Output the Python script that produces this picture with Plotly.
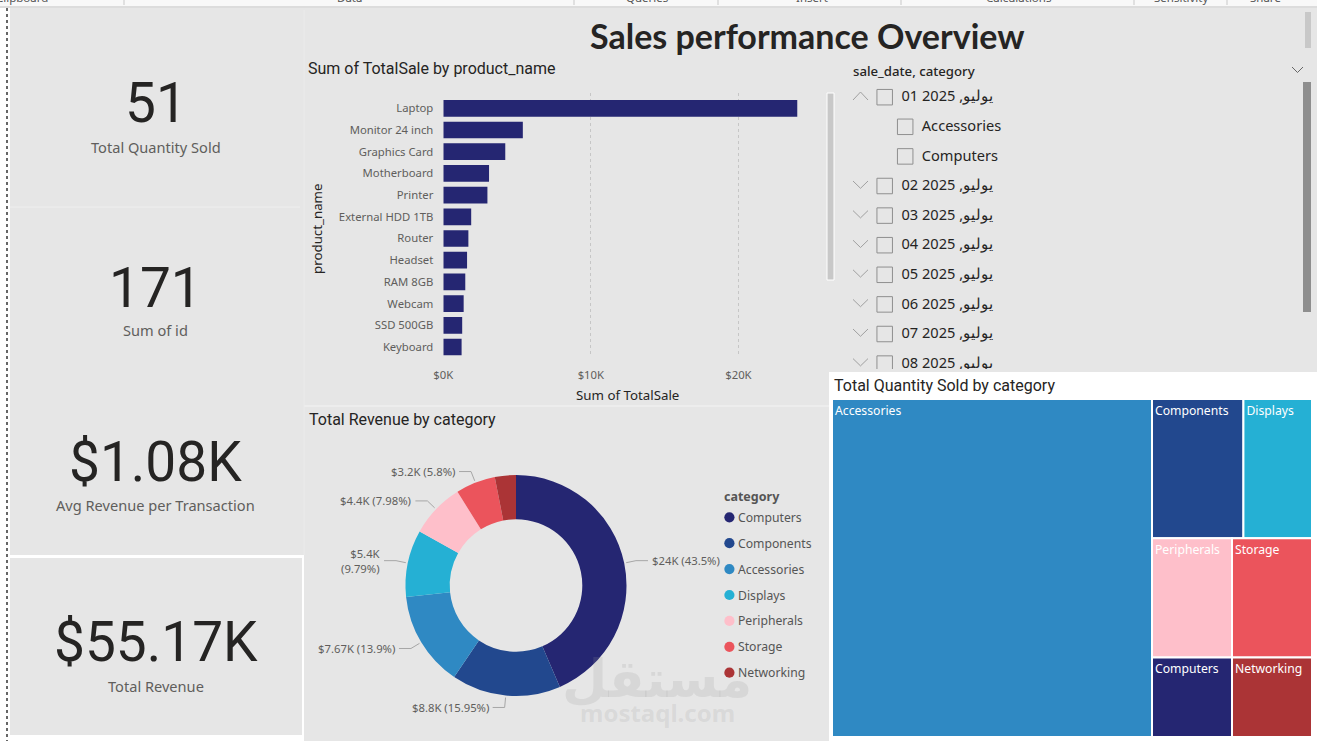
import math
import plotly.graph_objects as go

W, H = 1317, 741

# ---------------- data ----------------
products = ["Laptop", "Monitor 24 inch", "Graphics Card", "Motherboard", "Printer",
            "External HDD 1TB", "Router", "Headset", "RAM 8GB", "Webcam", "SSD 500GB", "Keyboard"]
product_sales = [23990, 5390, 4200, 3100, 2990, 1890, 1700, 1610, 1490, 1380, 1280, 1240]
sales_ticks = [0, 10000, 20000]
sales_tick_labels = ["$0K", "$10K", "$20K"]

rev_categories = ["Computers", "Components", "Accessories", "Displays", "Peripherals", "Storage", "Networking"]
rev_values = [24000, 8800, 7670, 5400, 4400, 3200, 1700]
rev_value_labels = ["$24K", "$8.8K", "$7.67K", "$5.4K", "$4.4K", "$3.2K", "$1.7K"]
rev_pct_labels = ["43.5%", "15.95%", "13.9%", "9.79%", "7.98%", "5.8%", "3.08%"]

qty_categories = ["Accessories", "Components", "Displays", "Peripherals", "Storage", "Computers", "Networking"]
qty_values = [34, 4, 3, 3, 3, 2, 2]

card_values = ["51", "171", "$1.08K", "$55.17K"]
card_labels = ["Total Quantity Sold", "Sum of id", "Avg Revenue per Transaction", "Total Revenue"]

slicer_days = ["01", "02", "03", "04", "05", "06", "07", "08"]
slicer_month = "يوليو"
slicer_year = "2025"
slicer_expanded_children = ["Accessories", "Computers"]

ribbon_items = ["Clipboard", "Data", "Queries", "Insert", "Calculations", "Sensitivity", "Share"]

cat_colors = {"Computers": "#252672", "Components": "#22488E", "Accessories": "#2F89C3",
              "Displays": "#25B0D4", "Peripherals": "#FEBFCA", "Storage": "#EB545C",
              "Networking": "#AB3436"}

# ---------------- helpers ----------------
FONT = "Noto Sans"
DIN = "Roboto"
TXT = "#252423"
SUB = "#605E5C"


def px(x):
    return x / W


def py(y):
    return 1 - y / H


shapes = []
annotations = []


def rect(x0, y0, x1, y1, color, line=None, layer="below"):
    shapes.append(dict(type="rect", xref="paper", yref="paper",
                       x0=px(x0), x1=px(x1), y0=py(y1), y1=py(y0),
                       fillcolor=color, line=line or dict(width=0), layer=layer))


def seg(x0, y0, x1, y1, color, width=1, dash="solid", layer="above"):
    shapes.append(dict(type="line", xref="paper", yref="paper",
                       x0=px(x0), y0=py(y0), x1=px(x1), y1=py(y1),
                       line=dict(color=color, width=width, dash=dash), layer=layer))


def text(x, y, s, size, color, family=FONT, xanchor="left", yanchor="middle",
         weight="normal", angle=0, align="left"):
    annotations.append(dict(xref="paper", yref="paper", x=px(x), y=py(y), text=s,
                            showarrow=False, xanchor=xanchor, yanchor=yanchor,
                            align=align, textangle=angle, borderpad=0,
                            font=dict(size=size, color=color, family=family, weight=weight)))


# ---------------- backgrounds ----------------
rect(0, 0, W, 6, "#F8F8F8")
rect(0, 6, W, 8, "#DCDCDC")
for sx in [124, 574, 718, 901, 1134, 1227]:
    seg(sx, 0, sx, 5, "#C8C8C8", layer="below")
ribbon_x = [22, 349, 647, 812, 1018, 1181, 1265]
for name, rx in zip(ribbon_items, ribbon_x):
    text(rx, -3, name, 11.5, "#555555", xanchor="center")

rect(10, 8, W, H, "#E6E6E6")
# cards column
rect(0, 735, 304, H, "#FFFFFF")
seg(10, 207, 300, 207, "#EFEFEF", 1, layer="below")
rect(10, 555, 304, 558, "#FFFFFF")
rect(302, 555, 304, 735, "#FFFFFF")
seg(7, 8, 7, H, "#666666", 2, "dot", layer="below")
# faint panel borders
seg(304, 406, 829, 406, "#EFEFEF", 1.5, layer="below")
seg(304, 10, 304, 555, "#EBEBEB", 1, layer="below")
# treemap panel (white)
rect(829, 372, W, H, "#FFFFFF")
# title scrollbar
rect(1305, 12, 1311, 48, "#C8C8C8")
# bar chart scrollbar
rect(827, 93, 834, 280, "#C8C8C8", line=dict(color="#FFFFFF", width=1))
# slicer scrollbar
rect(1303, 82, 1311, 312, "#8E8E8E")
# slicer header chevron
seg(1292, 67, 1297.5, 72.5, "#666666", 1)
seg(1297.5, 72.5, 1303, 67, "#666666", 1)

# ---------------- cards ----------------
val_y = [103, 288, 462, 642]
lab_y = [147, 330, 505, 686]
for v, l, vy, ly in zip(card_values, card_labels, val_y, lab_y):
    text(155.5, vy, v, 55, TXT, family=DIN, xanchor="center")
    text(155.5, ly, l, 14.6, SUB, xanchor="center")

# ---------------- titles ----------------
text(806.5, 35, "Sales performance Overview", 34, TXT, family="Lato", xanchor="center", weight="bold")
text(307, 68.5, "Sum of TotalSale by product_name", 16, TXT, family=DIN)
text(308, 419, "Total Revenue by category", 16, TXT, family=DIN)
text(833, 385, "Total Quantity Sold by category", 16, TXT, family=DIN)
text(852, 71, "sale_date, category", 13.2, TXT, weight=500)

# axis titles for the bar chart
text(317, 229, "product_name", 13.3, TXT, xanchor="center", angle=-90)
text(627.5, 395, "Sum of TotalSale", 13.3, TXT, xanchor="center")

fig = go.Figure()

# ---------------- bar chart ----------------
fig.add_trace(go.Bar(x=product_sales, y=products, orientation="h", width=0.77,
                     marker=dict(color="#252672", line=dict(width=0)),
                     hoverinfo="skip", xaxis="x", yaxis="y"))

x0px, per_k = 443.3, 14.755
bar_xaxis = dict(domain=[px(x0px), px(x0px + per_k * 25)], range=[0, 25000],
                 tickvals=sales_ticks, ticktext=sales_tick_labels,
                 showgrid=True, gridcolor="#C6C6C6", griddash="dot", gridwidth=1,
                 zeroline=False, showline=False, ticks="", ticklabelstandoff=10,
                 tickfont=dict(family=FONT, size=11.3, color=SUB), anchor="y",
                 fixedrange=True, automargin=False)
bar_yaxis = dict(domain=[py(357), py(93)], range=[11.46, -0.705], type="category",
                 categoryorder="array", categoryarray=products,
                 showgrid=False, zeroline=False, showline=False, ticks="",
                 ticklabelstandoff=9,
                 tickfont=dict(family=FONT, size=11.3, color=SUB), anchor="x",
                 fixedrange=True, automargin=False)

# ---------------- donut ----------------
cx, cy, R = 516, 585.5, 110.5
fig.add_trace(go.Pie(labels=rev_categories, values=rev_values, hole=0.6, sort=False,
                     direction="clockwise", rotation=0, textinfo="none",
                     marker=dict(colors=[cat_colors[c] for c in rev_categories],
                                 line=dict(width=0)),
                     domain=dict(x=[px(cx - R), px(cx + R)], y=[py(cy + R), py(cy - R)]),
                     showlegend=False, hoverinfo="skip"))

total = sum(rev_values)
cum = 0.0
for val, vl, pl in zip(rev_values, rev_value_labels, rev_pct_labels):
    mid = (cum + val / 2) / total * 2 * math.pi
    cum += val
    if val / total < 0.05:
        continue
    s, c = math.sin(mid), math.cos(mid)
    ax_, ay_ = cx + (R + 2) * s, cy - (R + 2) * c
    ex, ey = cx + (R + 12) * s, cy - (R + 12) * c
    side = 1 if s > 0 else -1
    hx = ex + side * 12
    seg(ax_, ay_, ex, ey, "#A6A6A6", 1)
    seg(ex, ey, hx, ey, "#A6A6A6", 1)
    label = f"{vl} ({pl})"
    est_w = len(label) * 5.8
    if side < 0 and hx - 3 - est_w < 308:
        label = f"{vl}<br>({pl})"
    text(hx + side * 3, ey, label, 11.3, SUB,
         xanchor="left" if side > 0 else "right", align="left" if side > 0 else "right")

# legend
text(723, 496.5, "category", 12.5, "#555555", weight="bold")
for i, cat in enumerate(rev_categories):
    ly = 517.3 + 25.9 * i
    shapes.append(dict(type="circle", xref="paper", yref="paper",
                       x0=px(724.3), x1=px(734.5), y0=py(ly + 5.1), y1=py(ly - 5.1),
                       fillcolor=cat_colors[cat], line=dict(width=0), layer="above"))
    text(736.5, ly, cat, 12.2, "#555555")

# watermark
text(657, 679, "مستقل", 52, "rgba(150,150,150,0.18)", family="DejaVu Sans", xanchor="center", weight="bold")
text(657, 712, "mostaql.com", 24, "rgba(150,150,150,0.18)", family=FONT, xanchor="center", weight="bold")

# ---------------- treemap ----------------
fig.add_trace(go.Treemap(labels=qty_categories, parents=[""] * len(qty_categories),
                         values=qty_values, sort=True,
                         marker=dict(colors=[cat_colors[c] for c in qty_categories],
                                     line=dict(color="#FFFFFF", width=2),
                                     pad=dict(t=0, l=0, r=0, b=0)),
                         textinfo="label", textposition="top left",
                         textfont=dict(family=FONT, size=12.2, color="#FFFFFF"),
                         insidetextfont=dict(family=FONT, size=12.2, color="#FFFFFF"),
                         tiling=dict(packing="squarify", squarifyratio=1.618, pad=0),
                         pathbar=dict(visible=False), root=dict(color="#FFFFFF"),
                         domain=dict(x=[px(832), px(1312)], y=[py(737), py(399)]),
                         hoverinfo="skip"))

# ---------------- slicer (clipped list) ----------------
rows = []
for d in slicer_days:
    rows.append(("date", f"{d} {slicer_year} ,{slicer_month}", d == slicer_days[0]))
    if d == slicer_days[0]:
        for ch in slicer_expanded_children:
            rows.append(("child", ch, False))

row_y0, row_dy = 97.7, 29.6
txt_x, txt_y, txt_s = [], [], []
box_x, box_y = [], []
chev_x, chev_y = [], []
for i, (kind, label, expanded) in enumerate(rows):
    yc = row_y0 + row_dy * i
    if kind == "date":
        txt_x.append(901.5)
        box_x.append(884.7)
        if expanded:
            chev_x += [853, 860.5, 868, None]
            chev_y += [yc + 2.3, yc - 5.7, yc + 2.3, None]
        else:
            chev_x += [853, 860.5, 868, None]
            chev_y += [yc - 5.5, yc + 1.8, yc - 5.5, None]
    else:
        txt_x.append(921.8)
        box_x.append(905.2)
    txt_y.append(yc)
    txt_s.append(label)
    box_y.append(yc - 0.5)

fig.add_trace(go.Scatter(x=chev_x, y=chev_y, mode="lines", line=dict(color="#A0A0A0", width=1),
                         hoverinfo="skip", xaxis="x2", yaxis="y2", connectgaps=False))
fig.add_trace(go.Scatter(x=box_x, y=box_y, mode="markers",
                         marker=dict(symbol="square-open", size=15.5, color="#8F8F8F",
                                     line=dict(width=1)),
                         hoverinfo="skip", xaxis="x2", yaxis="y2"))
fig.add_trace(go.Scatter(x=txt_x, y=txt_y, mode="text", text=txt_s, textposition="middle right",
                         textfont=dict(family=FONT, size=14.6, color=TXT),
                         hoverinfo="skip", xaxis="x2", yaxis="y2", cliponaxis=True))

sl_xaxis = dict(domain=[px(830), px(1300)], range=[830, 1300], visible=False,
                fixedrange=True, anchor="y2", automargin=False)
sl_yaxis = dict(domain=[py(369), py(80)], range=[369, 80], visible=False,
                fixedrange=True, anchor="x2", automargin=False)

fig.update_layout(width=W, height=H, margin=dict(l=0, r=0, t=0, b=0, autoexpand=False),
                  paper_bgcolor="#FFFFFF", plot_bgcolor="rgba(0,0,0,0)",
                  showlegend=False, font=dict(family=FONT),
                  xaxis=bar_xaxis, yaxis=bar_yaxis, xaxis2=sl_xaxis, yaxis2=sl_yaxis,
                  bargap=0.2, shapes=shapes, annotations=annotations)

fig.write_html("out.html", config={"displayModeBar": False})
